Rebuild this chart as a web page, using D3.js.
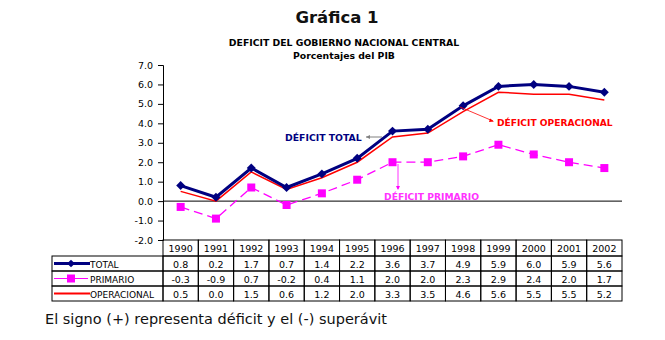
<!DOCTYPE html>
<html><head><meta charset="utf-8">
<script src="https://cdn.jsdelivr.net/npm/d3@7"></script>
<style>body{margin:0;background:#fff;} svg{display:block;}</style>
</head><body>
<svg id="c" width="665" height="340"></svg>
<script>
const years = ["1990","1991","1992","1993","1994","1995","1996","1997","1998","1999","2000","2001","2002"];
const total = [0.8,0.2,1.7,0.7,1.4,2.2,3.6,3.7,4.9,5.9,6.0,5.9,5.6];
const primario = [-0.3,-0.9,0.7,-0.2,0.4,1.1,2.0,2.0,2.3,2.9,2.4,2.0,1.7];
const operacional = [0.5,0.0,1.5,0.6,1.2,2.0,3.3,3.5,4.6,5.6,5.5,5.5,5.2];
const yTicks = [-2,-1,0,1,2,3,4,5,6,7];
const seriesNames = ["TOTAL","PRIMARIO","OPERACIONAL"];

const font = "'DejaVu Sans', sans-serif";
const svg = d3.select("#c").style("font-family", font);
const fmt = v => d3.format(".1f")(v).replace("\u2212", "-");

const x = d3.scaleBand().domain(years).range([163, 622]).padding(0);
const y = d3.scaleLinear().domain([-2, 7]).range([240, 65]);
const cx = d => x(d) + x.bandwidth()/2;

// Titles
svg.append("text").attr("x", 337).attr("y", 23).attr("text-anchor","middle")
  .attr("font-size", 16.5).attr("font-weight","bold").attr("fill","#111").text("Gráfica 1");
svg.append("text").attr("x", 344).attr("y", 46).attr("text-anchor","middle")
  .attr("font-size", 9.3).attr("font-weight","bold").text("DEFICIT  DEL  GOBIERNO  NACIONAL CENTRAL");
svg.append("text").attr("x", 344).attr("y", 59).attr("text-anchor","middle")
  .attr("font-size", 9.3).attr("font-weight","bold").text("Porcentajes del PIB");

// Y axis
const yAxis = d3.axisLeft(y).tickValues(yTicks).tickFormat(fmt).tickSize(5);
const ga = svg.append("g").attr("transform","translate(163,0)").call(yAxis);
ga.select(".domain").attr("stroke","#000");
ga.selectAll("text").attr("font-size", 9.5).attr("font-family", font).attr("x", -10);

// zero line
svg.append("line").attr("x1",163).attr("x2",622).attr("y1",y(0)).attr("y2",y(0))
  .attr("stroke","#000").attr("stroke-width",1);

const line = d3.line().x((d,i)=>cx(years[i])).y(d=>y(d));

// Operacional
svg.append("path").datum(operacional).attr("d", line).attr("fill","none")
  .attr("stroke","#ff0000").attr("stroke-width",1.5);
// Primario
svg.append("path").datum(primario).attr("d", line).attr("fill","none")
  .attr("stroke","#ff00ff").attr("stroke-width",1.3).attr("stroke-dasharray","9,5");
svg.append("g").selectAll("rect").data(primario).join("rect")
  .attr("x",(d,i)=>cx(years[i])-4).attr("y",d=>y(d)-4).attr("width",8).attr("height",8)
  .attr("fill","#ff00ff");
// Total
svg.append("path").datum(total).attr("d", line).attr("fill","none")
  .attr("stroke","#000080").attr("stroke-width",3);
svg.append("g").selectAll("path").data(total).join("path")
  .attr("transform",(d,i)=>`translate(${cx(years[i])},${y(d)}) rotate(45)`)
  .attr("d", d3.symbol().type(d3.symbolSquare).size(40)())
  .attr("fill","#000080");

// Annotations
svg.append("text").attr("x",285).attr("y",141).attr("font-size",9.3).attr("font-weight","bold")
  .attr("fill","#000080").text("DÉFICIT  TOTAL");
svg.append("line").attr("x1",366).attr("x2",382).attr("y1",137).attr("y2",137)
  .attr("stroke","#808080").attr("stroke-width",1);
svg.append("path").attr("d","M366,137 l4,-2 l0,4 z").attr("fill","#808080");

svg.append("text").attr("x",497).attr("y",126).attr("font-size",9.1).attr("font-weight","bold")
  .attr("fill","#ff0000").text("DÉFICIT OPERACIONAL");
svg.append("line").attr("x1",460).attr("x2",493).attr("y1",107).attr("y2",121)
  .attr("stroke","#ff0000").attr("stroke-width",0.8);
svg.append("path").attr("d","M494,121.5 l-4,-3 l-1,3.5 z").attr("fill","#ff0000");

svg.append("text").attr("x",384).attr("y",200).attr("font-size",9.2).attr("font-weight","bold")
  .attr("fill","#ff33ff").text("DÉFICIT PRIMARIO");
svg.append("line").attr("x1",398).attr("x2",398).attr("y1",164).attr("y2",189)
  .attr("stroke","#ff00ff").attr("stroke-width",0.8);
svg.append("path").attr("d","M398,190 l-2,-4 l4,0 z").attr("fill","#ff00ff");

// Table
const rowTop = [240, 256, 271, 286, 301];
const tg = svg.append("g");
years.forEach(yr => {
  tg.append("rect").attr("x",x(yr)).attr("y",rowTop[0]).attr("width",x.bandwidth()).attr("height",rowTop[1]-rowTop[0])
    .attr("fill","none").attr("stroke","#000").attr("stroke-width",1);
  tg.append("text").attr("x",cx(yr)).attr("y",rowTop[0]+12).attr("text-anchor","middle")
    .attr("font-size",9.5).text(yr);
});
const rows = [total, primario, operacional];
rows.forEach((vals, r) => {
  const top = rowTop[r+1], h = rowTop[r+2]-rowTop[r+1];
  tg.append("rect").attr("x",52).attr("y",top).attr("width",163-52).attr("height",h)
    .attr("fill","none").attr("stroke","#000");
  vals.forEach((v,i) => {
    tg.append("rect").attr("x",x(years[i])).attr("y",top).attr("width",x.bandwidth()).attr("height",h)
      .attr("fill","none").attr("stroke","#000");
    tg.append("text").attr("x",cx(years[i])).attr("y",top+11.5).attr("text-anchor","middle")
      .attr("font-size",9.5).text(fmt(v));
  });
  tg.append("text").attr("x",90).attr("y",top+11.5).attr("font-size",9).text(seriesNames[r]);
  const my = top + h/2;
  if (r === 0) {
    tg.append("line").attr("x1",54).attr("x2",90).attr("y1",my).attr("y2",my).attr("stroke","#000080").attr("stroke-width",3);
    tg.append("path").attr("transform",`translate(71,${my}) rotate(45)`).attr("d", d3.symbol().type(d3.symbolSquare).size(30)()).attr("fill","#000080");
  } else if (r === 1) {
    tg.append("line").attr("x1",54).attr("x2",88).attr("y1",my).attr("y2",my).attr("stroke","#ff00ff").attr("stroke-width",1);
    tg.append("rect").attr("x",67).attr("y",my-4).attr("width",8).attr("height",8).attr("fill","#ff00ff");
  } else {
    tg.append("line").attr("x1",54).attr("x2",90).attr("y1",my).attr("y2",my).attr("stroke","#ff0000").attr("stroke-width",2);
  }
});

// Note
svg.append("text").attr("x",45).attr("y",324).attr("font-size",14.5)
  .attr("fill","#111")
  .text("El signo (+) representa déficit y el (-) superávit");
</script>
</body></html>
